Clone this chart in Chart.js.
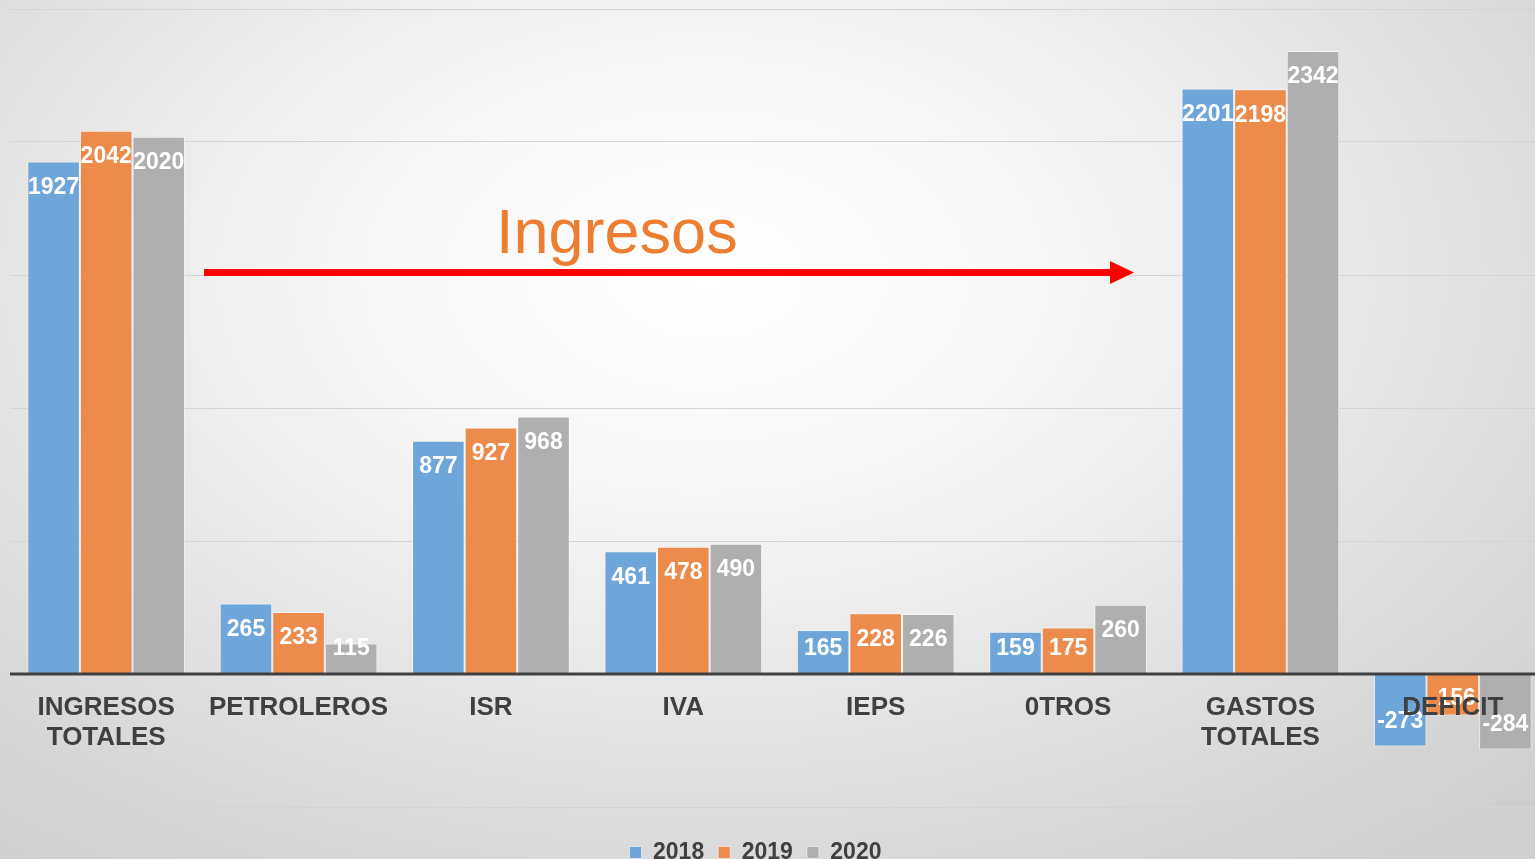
<!DOCTYPE html>
<html>
<head>
<meta charset="utf-8">
<script src="https://cdn.jsdelivr.net/npm/chart.js@4/dist/chart.umd.min.js"></script>
<style>
  html, body { margin: 0; padding: 0; width: 1535px; height: 859px; overflow: hidden; }
  body { background: radial-gradient(ellipse 75% 85% at 46% 32%, #ffffff 0%, #f7f7f7 30%, #e2e2e2 65%, #cfcfcf 100%); }
  #wrap { position: absolute; left: 0; top: 0; width: 1560px; height: 874px; }
</style>
</head>
<body>
<div id="wrap"><canvas id="c"></canvas></div>
<script>
const categories = [['INGRESOS', 'TOTALES'], 'PETROLEROS', 'ISR', 'IVA', 'IEPS', '0TROS', ['GASTOS', 'TOTALES'], 'DEFICIT'];
const seriesNames = ['2018', '2019', '2020'];
const values2018 = [1927, 265, 877, 461, 165, 159, 2201, -273];
const values2019 = [2042, 233, 927, 478, 228, 175, 2198, -156];
const values2020 = [2020, 115, 968, 490, 226, 260, 2342, -284];
const yTicks = [-500, 0, 500, 1000, 1500, 2000, 2500];
const annotationText = 'Ingresos';

const colors = ['#6fa6d9', '#ec8b4b', '#afafaf'];
const FONT = '"Liberation Sans", Arial, sans-serif';

const overlay = {
  id: 'overlay',
  afterLayout(chart) {
    if (chart.legend) { chart.legend.left -= 24; chart.legend.right -= 24; }
  },
  afterDatasetsDraw(chart) {
    const ctx = chart.ctx;
    const xs = chart.scales.x, ys = chart.scales.y;
    const area = chart.chartArea;
    const zero = ys.getPixelForValue(0);
    ctx.save();
    // zero line on top of bars
    ctx.strokeStyle = '#404040';
    ctx.lineWidth = 3;
    ctx.beginPath();
    ctx.moveTo(area.left, zero);
    ctx.lineTo(area.right, zero);
    ctx.stroke();
    // value labels
    ctx.font = 'bold 23px ' + FONT;
    ctx.fillStyle = '#ffffff';
    ctx.textAlign = 'center';
    ctx.textBaseline = 'middle';
    chart.data.datasets.forEach((ds, i) => {
      const meta = chart.getDatasetMeta(i);
      meta.data.forEach((bar, j) => {
        const v = ds.data[j];
        let y;
        if (v >= 0) y = Math.min(bar.y + 26, zero - 25);
        else y = Math.max(bar.y - 25, zero + 25);
        ctx.fillText(String(v), bar.x, y);
      });
    });
    // category labels at zero line
    ctx.font = 'bold 26px ' + FONT;
    ctx.fillStyle = '#404040';
    categories.forEach((c, j) => {
      const x = xs.getPixelForValue(j);
      const lines = Array.isArray(c) ? c : [c];
      lines.forEach((t, k) => ctx.fillText(t, x, zero + 34 + k * 30));
    });
    // annotation text
    ctx.font = '63px ' + FONT;
    ctx.fillStyle = '#ed7d31';
    ctx.textAlign = 'left';
    ctx.textBaseline = 'alphabetic';
    ctx.fillText(annotationText, 496, 253);
    // arrow
    ctx.strokeStyle = '#ff0000';
    ctx.fillStyle = '#ff0000';
    ctx.lineWidth = 7;
    ctx.beginPath();
    ctx.moveTo(204, 272.5);
    ctx.lineTo(1112, 272.5);
    ctx.stroke();
    ctx.beginPath();
    ctx.moveTo(1110, 261);
    ctx.lineTo(1134, 272.5);
    ctx.lineTo(1110, 284);
    ctx.closePath();
    ctx.fill();
    ctx.restore();
  }
};

new Chart(document.getElementById('c'), {
  type: 'bar',
  data: {
    labels: categories,
    datasets: [
      { label: seriesNames[0], data: values2018, backgroundColor: colors[0] },
      { label: seriesNames[1], data: values2019, backgroundColor: colors[1] },
      { label: seriesNames[2], data: values2020, backgroundColor: colors[2] }
    ].map(d => Object.assign(d, { borderColor: 'rgba(255,255,255,0.55)', borderWidth: 1, categoryPercentage: 0.82, barPercentage: 1 }))
  },
  options: {
    responsive: true,
    maintainAspectRatio: false,
    animation: false,
    layout: { padding: { left: 10, right: 11, top: 9, bottom: 0 } },
    plugins: {
      legend: {
        position: 'bottom',
        labels: {
          boxWidth: 12, boxHeight: 12, padding: 14,
          color: '#404040',
          font: { family: FONT, size: 23, weight: 'bold' }
        }
      },
      tooltip: { enabled: false }
    },
    scales: {
      x: {
        display: true,
        ticks: { display: false },
        grid: { display: false, drawTicks: false },
        border: { display: false },
        afterFit(axis) { axis.height = 20; }
      },
      y: {
        min: -500, max: 2500,
        afterBuildTicks(axis) { axis.ticks = yTicks.map(v => ({ value: v })); },
        ticks: { display: false },
        border: { display: false },
        grid: { color: '#d4d4d4', lineWidth: 1, drawTicks: false }
      }
    }
  },
  plugins: [overlay]
});
</script>
</body>
</html>
